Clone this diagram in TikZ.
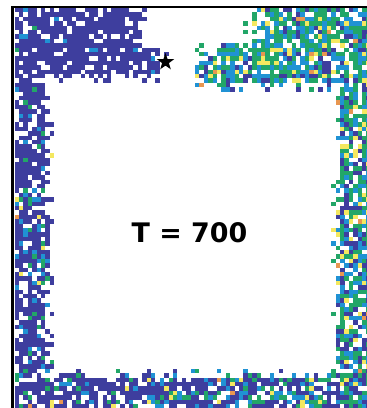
\documentclass[tikz,border=0pt]{standalone}
\usepackage{fontspec}
\setmainfont{DejaVu Sans}
\usetikzlibrary{shapes.geometric}

\definecolor{cindigo}{RGB}{62,62,158}
\definecolor{cblue}{RGB}{32,146,212}
\definecolor{cgreen}{RGB}{34,166,104}
\definecolor{cyellow}{RGB}{244,232,96}
\definecolor{corange}{RGB}{232,150,80}

% distance (in cells) of cell (\i,\j) to a block of cells
\newcount\dmin
\newcommand\tryrect[4]{%
  \edef\dx{\ifnum\i<#1 \the\numexpr#1-\i\relax\else\ifnum\i>#2 \the\numexpr\i-#2\relax\else 0\fi\fi}%
  \edef\dy{\ifnum\j<#3 \the\numexpr#3-\j\relax\else\ifnum\j>#4 \the\numexpr\j-#4\relax\else 0\fi\fi}%
  \ifnum\numexpr\dx+\dy\relax<\dmin \dmin=\numexpr\dx+\dy\relax\fi}

% colour: cold side left of the star, hot side right of it
\newcommand\pickcolor{%
  \ifnum\j<18
    \ifnum\i<37 \def\pval{0}\else\def\pval{0.95}\fi
  \else\ifnum\i<10
    \pgfmathsetmacro\pval{0.02+0.22*\j/91}%
  \else\ifnum\j>80
    \pgfmathsetmacro\pval{0.24+0.46*(\i-9)/71}%
  \else
    \pgfmathsetmacro\pval{0.72+0.23*(91-\j)/91}%
  \fi\fi\fi
  \pgfmathsetmacro\ra{rnd}\pgfmathsetmacro\rb{rnd}%
  \ifdim\ra pt<\pval pt
    \ifdim\rb pt<0.12pt \def\col{cindigo}\else
    \ifdim\rb pt<0.45pt \def\col{cblue}\else
    \ifdim\rb pt<0.85pt \def\col{cgreen}\else
    \ifdim\rb pt<0.97pt \def\col{cyellow}\else
    \def\col{corange}\fi\fi\fi\fi
  \else
    \ifdim\rb pt<0.95pt \def\col{cindigo}\else
    \ifdim\rb pt<0.985pt \def\col{cblue}\else
    \def\col{cgreen}\fi\fi
  \fi}

\newcommand\cellstep{%
  \dmin=9
  \tryrect{0}{27}{0}{13}\tryrect{0}{32}{9}{14}\tryrect{0}{6}{0}{91}%
  \tryrect{54}{80}{0}{16}\tryrect{42}{80}{9}{16}\tryrect{74}{80}{0}{91}%
  \tryrect{0}{80}{84}{91}%
  \ifcase\dmin \def\occ{0.8}\or\def\occ{0.38}\or\def\occ{0.12}\else\def\occ{0}\fi
  \pgfmathsetmacro\ra{rnd}%
  \ifdim\ra pt<\occ pt
    \pickcolor
    \fill[\col] ({14.5+4.4*\i},{8+4.4*\j}) rectangle ++(4.45,4.45);
  \fi}

\begin{document}
\begin{tikzpicture}[
  x=1bp, y=-1bp,
  starmark/.style={star, star points=5, star point ratio=2.5, minimum size=18bp, inner sep=0pt, fill=black},
  tlabel/.style={anchor=base, inner sep=0pt, font=\fontsize{27}{32}\selectfont\bfseries}
]
\useasboundingbox (0,0) rectangle (367,408);
\clip (0,0) rectangle (367,408);
\pgfmathsetseed{12}

% particles
\foreach \i in {0,...,80}{
  \foreach \j in {0,...,90}{
    \def\skipit{0}%
    \ifnum\i>9 \ifnum\i<71 \ifnum\j>19 \ifnum\j<81 \def\skipit{1}\fi\fi\fi\fi
    \ifnum\skipit=0 \cellstep\fi
  }
}

\draw[line width=2bp] (12.5,6.5) rectangle (380,420);

\node[starmark] (star) at (165.5,62) {};
\node[tlabel] (temp) at (189.5,242) {T = 700};
\end{tikzpicture}
\end{document}
